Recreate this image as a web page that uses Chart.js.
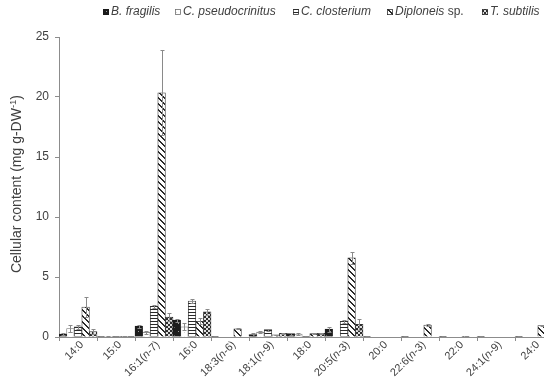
<!DOCTYPE html>
<html><head><meta charset="utf-8">
<script src="https://cdn.jsdelivr.net/npm/chart.js@4.4.1/dist/chart.umd.min.js"></script>
<style>
html,body{margin:0;padding:0;background:#fff;overflow:hidden;width:544px;height:384px}
canvas{display:block}
</style></head>
<body>
<canvas id="c" width="556" height="384" style="width:556px;height:384px"></canvas>
<script>
// Fatty acid classes on the x axis
const categories = ['14:0','15:0','16:1(n-7)','16:0','18:3(n-6)','18:1(n-9)','18:0','20:5(n-3)','20:0','22:6(n-3)','22:0','24:1(n-9)','24:0'];
const speciesNames = ['B. fragilis','C. pseudocrinitus','C. closterium','Diploneis sp.','T. subtilis'];
const yTicks = [0,5,10,15,20,25];

// Mean cellular content (mg g-DW-1) and standard deviation per species
const fragilisMean  = [0.25,0.03,0.90,1.40,0.02,0.20,0.28,0.65,0.02,0.02,0.02,0.02,0.02];
const fragilisSD    = [0.10,0.03,0.12,0.12,0.03,0.10,0.08,0.20,0.03,0.03,0.03,0.03,0.03];
const pseudoMean    = [0.70,0.03,0.40,0.85,0,0.40,0.25,0,0,0,0,0,0];
const pseudoSD      = [0.30,0.02,0.12,0.30,0,0.10,0.05,0,0,0,0,0,0];
const closteriumMean= [0.85,0.05,2.55,3.00,0,0.62,0.03,1.30,0,0,0,0,0];
const closteriumSD  = [0.15,0.02,0.15,0.15,0,0.08,0.02,0.12,0,0,0,0,0];
const diploneisMean = [2.50,0.05,20.35,1.30,0.68,0.18,0.28,6.60,0,1.00,0.06,0,0.95];
const diploneisSD   = [0.85,0.02,3.55,0.25,0.04,0.02,0.05,0.50,0,0.05,0.02,0,0.05];
const subtilisMean  = [0.45,0.03,1.65,2.10,0,0.30,0.30,1.05,0,0,0,0,0];
const subtilisSD    = [0.20,0.02,0.35,0.25,0,0.05,0.05,0.45,0,0,0,0,0];

const FONT = "'Liberation Sans', Arial, sans-serif";
const fontStr = (size, italic) => (italic ? 'italic ' : '') + size + 'px ' + FONT;
const TEXT = '#404040';
const AXIS = '#8c8c8c';

function makePattern(size, paint) {
  const c = document.createElement('canvas');
  c.width = c.height = size;
  const g = c.getContext('2d');
  paint(g, size);
  return g.createPattern(c, 'repeat');
}
function px(g, x, y, col) { g.fillStyle = col; g.fillRect(x, y, 1, 1); }

const fills = [
  // dark with sparse light specks
  makePattern(8, (g, s) => { g.fillStyle = '#1c1c1c'; g.fillRect(0,0,s,s); px(g,2,3,'#9a9a9a'); px(g,6,7,'#5a5a5a'); }),
  // white with faint dots
  makePattern(4, (g, s) => { g.fillStyle = '#ffffff'; g.fillRect(0,0,s,s); px(g,0,0,'#dcdcdc'); }),
  // horizontal stripes
  makePattern(3, (g, s) => { g.fillStyle = '#ffffff'; g.fillRect(0,0,s,s); g.fillStyle = '#2a2a2a'; g.fillRect(0,0,s,1); }),
  // wide diagonal stripes
  makePattern(6, (g, s) => {
    g.fillStyle = '#ffffff'; g.fillRect(0,0,s,s);
    for (let y = 0; y < s; y++) for (let x = 0; x < s; x++) if (((x - y) % s + s) % s < 2) px(g,x,y,'#2a2a2a');
  }),
  // checker weave
  makePattern(4, (g, s) => {
    g.fillStyle = '#dedede'; g.fillRect(0,0,s,s);
    g.fillStyle = '#2e2e2e'; g.fillRect(0,0,2,2); g.fillRect(2,2,2,2);
  })
];
const borders = ['#1a1a1a','#707070','#333333','#333333','#333333'];

const means = [fragilisMean, pseudoMean, closteriumMean, diploneisMean, subtilisMean];
const sds = [fragilisSD, pseudoSD, closteriumSD, diploneisSD, subtilisSD];

const datasets = speciesNames.map((name, k) => ({
  label: name,
  data: means[k],
  sd: sds[k],
  backgroundColor: fills[k],
  borderColor: borders[k],
  borderWidth: 0.8,
  categoryPercentage: 1.0,
  barPercentage: 1.0
}));

function labelParts(s) {
  const m = s.match(/^(.*\()n(-.*)$/);
  return m ? [{t: m[1], i: false}, {t: 'n', i: true}, {t: m[2], i: false}] : [{t: s, i: false}];
}
function nameParts(s) {
  return s.endsWith(' sp.') ? [{t: s.slice(0, -4), i: true}, {t: ' sp.', i: false}] : [{t: s, i: true}];
}
function drawParts(ctx, parts, x, y, size, alignRight) {
  let total = 0;
  parts.forEach(p => { ctx.font = fontStr(size, p.i); p.w = ctx.measureText(p.t).width; total += p.w; });
  let cx = alignRight ? x - total : x;
  ctx.textAlign = 'left';
  parts.forEach(p => { ctx.font = fontStr(size, p.i); ctx.fillText(p.t, cx, y); cx += p.w; });
  return total;
}

// Error bars (mean ± SD) drawn over each bar
const errorBars = {
  id: 'errorBars',
  afterDatasetsDraw(chart) {
    const ctx = chart.ctx, ys = chart.scales.y;
    ctx.save();
    ctx.strokeStyle = '#8a8a8a';
    ctx.lineWidth = 1;
    chart.data.datasets.forEach((ds, k) => {
      const meta = chart.getDatasetMeta(k);
      meta.data.forEach((bar, j) => {
        const v = ds.data[j], e = ds.sd[j];
        if (!e) return;
        const x = Math.round(bar.x) + 0.5;
        const yt = Math.round(ys.getPixelForValue(v + e)) + 0.5;
        const yb = Math.round(ys.getPixelForValue(Math.max(v - e, 0))) + 0.5;
        ctx.beginPath();
        ctx.moveTo(x, yb); ctx.lineTo(x, yt);
        ctx.moveTo(x - 2, yt); ctx.lineTo(x + 2, yt);
        if (v - e > 0) { ctx.moveTo(x - 2, yb); ctx.lineTo(x + 2, yb); }
        ctx.stroke();
      });
    });
    ctx.restore();
  }
};

// Rotated category labels, legend and axis title
const decorations = {
  id: 'decorations',
  afterDraw(chart) {
    const ctx = chart.ctx, xs = chart.scales.x, area = chart.chartArea;
    ctx.save();
    ctx.fillStyle = TEXT;
    ctx.textBaseline = 'middle';
    categories.forEach((c, i) => {
      const cx = xs.getPixelForValue(i);
      ctx.save();
      ctx.translate(cx + 4, area.bottom + 6);
      ctx.rotate(-Math.PI / 4);
      drawParts(ctx, labelParts(c), 0, 0, 11, true);
      ctx.restore();
    });

    // legend
    const legendX = [103, 175, 293, 387, 482];
    const ly = 12;
    chart.data.datasets.forEach((ds, k) => {
      const bx = legendX[k];
      ctx.fillStyle = ds.backgroundColor;
      ctx.fillRect(bx, ly - 3, 6, 6);
      ctx.strokeStyle = ds.borderColor;
      ctx.lineWidth = 0.8;
      ctx.strokeRect(bx + 0.5, ly - 2.5, 5, 5);
      ctx.fillStyle = TEXT;
      drawParts(ctx, nameParts(ds.label), bx + 8, ly, 12, false);
    });

    // y axis title with superscript
    ctx.save();
    ctx.translate(17, (area.top + area.bottom) / 2 - 3);
    ctx.rotate(-Math.PI / 2);
    ctx.fillStyle = TEXT;
    const main = 'Cellular content (mg g-DW', sup = '-1', tail = ')';
    ctx.font = fontStr(14, false);
    const wMain = ctx.measureText(main).width, wTail = ctx.measureText(tail).width;
    ctx.font = fontStr(9.5, false);
    const wSup = ctx.measureText(sup).width;
    let x0 = -(wMain + wSup + wTail) / 2;
    ctx.font = fontStr(14, false);
    ctx.fillText(main, x0, 0);
    ctx.font = fontStr(9.5, false);
    ctx.fillText(sup, x0 + wMain, -4);
    ctx.font = fontStr(14, false);
    ctx.fillText(tail, x0 + wMain + wSup, 0);
    ctx.restore();
    ctx.restore();
  }
};

new Chart(document.getElementById('c'), {
  type: 'bar',
  data: { labels: categories, datasets },
  options: {
    responsive: false,
    animation: false,
    events: [],
    layout: { padding: { top: 37, right: 3, left: 0, bottom: 0 } },
    plugins: { legend: { display: false }, tooltip: { enabled: false } },
    scales: {
      x: {
        offset: true,
        grid: { offset: true, drawOnChartArea: false, drawTicks: true, tickLength: 4, color: AXIS },
        border: { color: AXIS, width: 1 },
        ticks: { display: false },
        afterFit: s => { s.height = 47; }
      },
      y: {
        min: 0, max: 25,
        afterBuildTicks: s => { s.ticks = yTicks.map(v => ({ value: v })); },
        grid: { drawOnChartArea: false, drawTicks: true, tickLength: 4, color: AXIS },
        border: { color: AXIS, width: 1 },
        ticks: { color: TEXT, padding: 6, font: { family: FONT, size: 12 } },
        afterFit: s => { s.width = 59; }
      }
    }
  },
  plugins: [errorBars, decorations]
});
</script>
</body></html>
